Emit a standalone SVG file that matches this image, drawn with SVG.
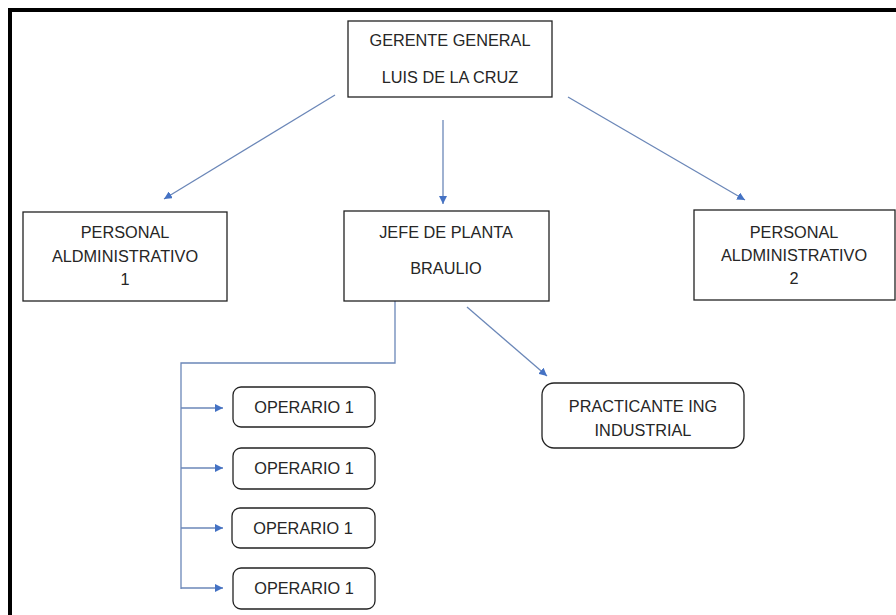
<svg xmlns="http://www.w3.org/2000/svg" width="896" height="615" viewBox="0 0 896 615">
<defs>
<marker id="ah" viewBox="0 0 10 10" refX="10" refY="5" markerWidth="8" markerHeight="8" markerUnits="userSpaceOnUse" orient="auto">
<path d="M0,0 L10,5 L0,10 Z" fill="#4472C4"/>
</marker>
<style>
.box{fill:#fff;stroke:#222;stroke-width:1.3}
.t{font-family:"Liberation Sans",Arial,sans-serif;font-size:16.3px;fill:#262626;text-anchor:middle;dominant-baseline:central}
.c{fill:none;stroke:#6b87b8;stroke-width:1.3}
.ca{fill:none;stroke:#6b87b8;stroke-width:1.3;marker-end:url(#ah)}
</style>
</defs>
<rect x="0" y="0" width="896" height="615" fill="#fff"/>
<path d="M10,615 V10 H896" fill="none" stroke="#000" stroke-width="4"/>
<g id="connectors">
<line class="ca" x1="335" y1="95" x2="164" y2="199"/>
<line class="ca" x1="443" y1="120" x2="443" y2="204"/>
<line class="ca" x1="568" y1="97" x2="745" y2="200"/>
<line class="ca" x1="467" y1="307" x2="547" y2="376"/>
<path class="c" d="M395,301 V363 H181 V589"/>
<line class="ca" x1="181" y1="408" x2="223" y2="408"/>
<line class="ca" x1="181" y1="468" x2="223" y2="468"/>
<line class="ca" x1="181" y1="528" x2="223" y2="528"/>
<line class="ca" x1="181" y1="588" x2="223" y2="588"/>
</g>
<g id="gerente">
<rect class="box" x="348" y="21" width="204" height="76"/>
<text class="t" x="450" y="40">GERENTE GENERAL</text>
<text class="t" x="450" y="77">LUIS DE LA CRUZ</text>
</g>
<g id="admin1">
<rect class="box" x="23" y="212" width="204" height="89"/>
<text class="t" x="125" y="232">PERSONAL</text>
<text class="t" x="125" y="256">ALDMINISTRATIVO</text>
<text class="t" x="125" y="279">1</text>
</g>
<g id="jefe">
<rect class="box" x="344" y="211" width="205" height="90"/>
<text class="t" x="446" y="232">JEFE DE PLANTA</text>
<text class="t" x="446" y="268">BRAULIO</text>
</g>
<g id="admin2">
<rect class="box" x="694" y="210" width="201" height="90"/>
<text class="t" x="794" y="232">PERSONAL</text>
<text class="t" x="794" y="255">ALDMINISTRATIVO</text>
<text class="t" x="794" y="278">2</text>
</g>
<g id="practicante">
<rect class="box" x="542" y="383" width="202" height="65" rx="12"/>
<text class="t" x="643" y="406">PRACTICANTE ING</text>
<text class="t" x="643" y="430">INDUSTRIAL</text>
</g>
<g id="operario1">
<rect class="box" x="233" y="387" width="142" height="40" rx="8"/>
<text class="t" x="304" y="407">OPERARIO 1</text>
</g>
<g id="operario2">
<rect class="box" x="233" y="448" width="142" height="41" rx="8"/>
<text class="t" x="304" y="468">OPERARIO 1</text>
</g>
<g id="operario3">
<rect class="box" x="232" y="508" width="143" height="40" rx="8"/>
<text class="t" x="303" y="528">OPERARIO 1</text>
</g>
<g id="operario4">
<rect class="box" x="233" y="568" width="142" height="41" rx="8"/>
<text class="t" x="304" y="588">OPERARIO 1</text>
</g>
</svg>
